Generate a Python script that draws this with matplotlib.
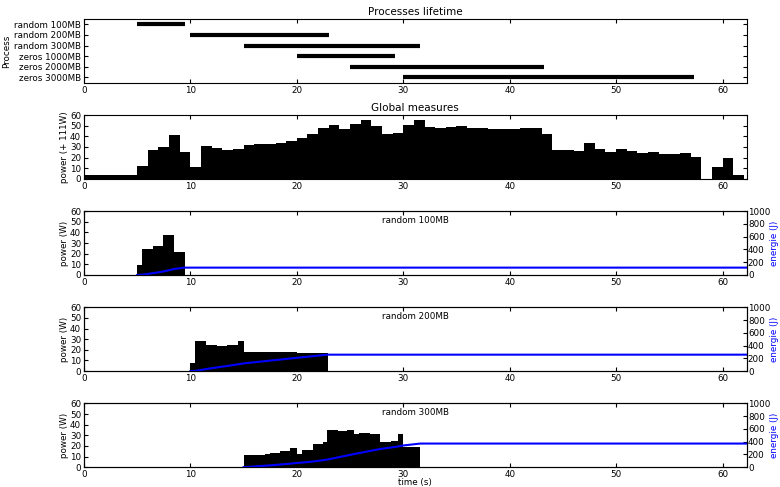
import numpy as np
import matplotlib
matplotlib.use('Agg')
import matplotlib.pyplot as plt

# process lifetimes (start, end) in seconds
proc_names = ['random 100MB', 'random 200MB', 'random 300MB',
              'zeros 1000MB', 'zeros 2000MB', 'zeros 3000MB']
proc_start = [5.0, 10.0, 15.0, 20.0, 25.0, 30.0]
proc_end = [9.5, 23.0, 31.6, 29.2, 43.2, 57.3]

# global measures, one sample per second (power above 111W idle)
glob_t = list(range(62))
glob_power = [3.2, 3.2, 3.2, 3.2, 3.2, 12, 27.5, 30.3, 41.7, 25.3,
              11, 31.3, 28.7, 27.5, 28.4, 31.6, 32.8, 32.8, 33.8, 35.5,
              38, 42, 48.3, 50.5, 46.7, 51.5, 55.3, 49.6, 42.3, 43.6,
              50.5, 55.3, 48.6, 47.7, 48.6, 49.6, 48, 47.7, 46.7, 46.7,
              46.7, 47.7, 47.7, 42.6, 27.5, 27.5, 26.5, 33.5, 28.4, 25.3,
              28.4, 26.5, 24.3, 25.3, 23.4, 23.4, 24.3, 20.2, 0, 11,
              19.3, 4.1]

# per-process power samples: bin edges and values
r100_edges = [5.0, 5.47, 6.45, 7.45, 8.5, 9.45]
r100_power = [9, 24, 27, 38, 22]

r200_edges = [10.0, 10.47, 11.5, 12.5, 13.45, 14.45, 15.0, 16, 17, 18, 19,
              20, 21, 22, 22.9]
r200_power = [8, 28, 25, 24, 25, 28, 17.5, 17.5, 17.5, 17.5, 17.5, 17, 17, 17]

r300_edges = [15.0, 16.0, 17.0, 17.5, 18.4, 19.4, 20.0, 20.5, 21.5, 22.5,
              22.8, 23.9, 24.75, 25.4, 25.8, 26.9, 27.8, 28.8, 29.5, 30.0,
              31.6]
r300_power = [11.2, 11.9, 12.2, 13.1, 15, 17.8, 12.2, 15.9, 21.6, 23.4,
              34.7, 33.8, 35.3, 31.6, 32.5, 31.6, 23.8, 24.7, 30.9, 18.8]

sub_names = ['random 100MB', 'random 200MB', 'random 300MB']
sub_edges = [r100_edges, r200_edges, r300_edges]
sub_power = [r100_power, r200_power, r300_power]

XMAX = 62.25
FS = 6.3

plt.rcParams['xtick.direction'] = 'in'
plt.rcParams['ytick.direction'] = 'in'
plt.rcParams['xtick.top'] = True
plt.rcParams['ytick.right'] = True
plt.rcParams['xtick.labelsize'] = FS
plt.rcParams['ytick.labelsize'] = FS
plt.rcParams['axes.labelsize'] = FS
plt.rcParams['xtick.major.size'] = 3
plt.rcParams['ytick.major.size'] = 3
plt.rcParams['xtick.major.pad'] = 2
plt.rcParams['ytick.major.pad'] = 2

fig = plt.figure(figsize=(7.8, 4.87), dpi=100)
W, H = 780., 487.


def _new_axes(row):
    '''axes for row i of the stacked layout'''
    top = 19 + row * 96.1
    h = 63.8
    return fig.add_axes([84 / W, 1 - (top + h) / H, 662.5 / W, h / H])


# --- processes lifetime ---
ax = _new_axes(0)
ypos = np.arange(len(proc_names))
ax.hlines(ypos, proc_start, proc_end, color='k', linewidth=3)
ax.set_yticks(ypos)
ax.set_yticklabels(proc_names)
ax.set_ylim(len(proc_names) - 0.5, -0.5)
ax.set_xlim(0, XMAX)
ax.set_ylabel('Process', labelpad=2)
ax.set_title('Processes lifetime', fontsize=7.5, pad=3)

# --- global measures ---
ax = _new_axes(1)
ax.bar(glob_t, glob_power, width=1.0, align='edge', color='k', linewidth=0)
ax.set_xlim(0, XMAX)
ax.set_ylim(0, 60)
ax.set_yticks(range(0, 61, 10))
ax.set_ylabel('power (+ 111W)', labelpad=1)
ax.set_title('Global measures', fontsize=7.5, pad=3)

# --- per process ---
for i, (name, edges, power) in enumerate(zip(sub_names, sub_edges, sub_power)):
    ax = _new_axes(2 + i)
    edges = np.array(edges)
    power = np.array(power)
    ax.bar(edges[:-1], power, width=np.diff(edges), align='edge',
           color='k', linewidth=0)
    ax.set_xlim(0, XMAX)
    ax.set_ylim(0, 60)
    ax.set_yticks(range(0, 61, 10))
    ax.set_ylabel('power (W)', labelpad=1)
    ax.tick_params(right=False)
    ax.text(0.5, 0.93, name, transform=ax.transAxes, ha='center', va='top',
            fontsize=FS)
    # cumulative energy
    energy = np.concatenate([[0], np.cumsum(power * np.diff(edges))])
    ex = np.append(edges, XMAX)
    ey = np.append(energy, energy[-1])
    ax2 = ax.twinx()
    ax2.plot(ex, ey, color='b', linewidth=1.5)
    ax2.set_ylim(0, 1000)
    ax2.set_yticks(range(0, 1001, 200))
    ax2.set_xlim(0, XMAX)
    ax2.set_ylabel('energie (J)', color='b', labelpad=0)
    ax2.tick_params(left=False, right=True, pad=1)
    if i == 2:
        ax.set_xlabel('time (s)', labelpad=-1)

plt.savefig('out.png', dpi=100)
